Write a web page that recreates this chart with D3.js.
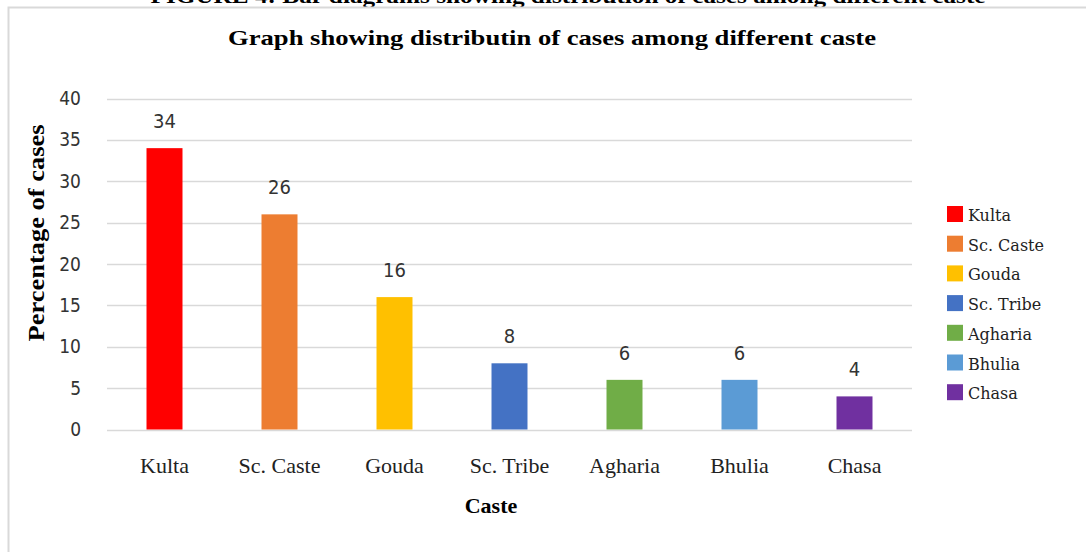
<!DOCTYPE html>
<html>
<head>
<meta charset="utf-8">
<script src="https://cdn.jsdelivr.net/npm/d3@7"></script>
<style>
  body { margin: 0; background: #fff; }
  svg { display: block; }
</style>
</head>
<body>
<svg id="chart" width="1086" height="552"></svg>
<script>
// data
const castes = ["Kulta", "Sc. Caste", "Gouda", "Sc. Tribe", "Agharia", "Bhulia", "Chasa"];
const percentages = [34, 26, 16, 8, 6, 6, 4];
const barColors = ["#ff0000", "#ed7d31", "#ffc000", "#4472c4", "#70ad47", "#5b9bd5", "#7030a0"];
const yTicks = [0, 5, 10, 15, 20, 25, 30, 35, 40];

const svg = d3.select("#chart"),
  width = +svg.attr("width"),
  height = +svg.attr("height");

const serif = "'Liberation Serif', 'Times New Roman', serif";
const sans = "'DejaVu Sans Condensed', 'Liberation Sans Narrow', sans-serif";
const plot = { left: 107, right: 912, top: 98.5, bottom: 429.5 };

// figure caption, mostly cut off at the top edge (as in the source)
svg.append("text")
  .attr("x", 568).attr("y", 3)
  .attr("text-anchor", "middle")
  .style("font-family", serif).style("font-weight", "bold").style("font-size", "22px")
  .attr("textLength", 835).attr("lengthAdjust", "spacingAndGlyphs")
  .text("FIGURE 4: Bar diagrams showing distribution of cases among different caste");

// chart frame
svg.append("path")
  .attr("d", "M8.5," + height + " V7.5 H" + width)
  .attr("fill", "none")
  .attr("stroke", "#d9d9d9")
  .attr("stroke-width", 2);

// scales
const x = d3.scaleBand()
  .domain(castes)
  .range([plot.left, plot.right])
  .paddingInner(0.687)
  .paddingOuter(0.3435);

const y = d3.scaleLinear()
  .domain([0, 40])
  .range([plot.bottom, plot.top]);

const color = d3.scaleOrdinal().domain(castes).range(barColors);

// gridlines
svg.append("g").attr("class", "grid")
  .selectAll("line")
  .data(yTicks)
  .enter().append("line")
  .attr("x1", plot.left).attr("x2", plot.right)
  .attr("y1", d => Math.round(y(d)) + 0.5)
  .attr("y2", d => Math.round(y(d)) + 0.5)
  .attr("stroke", "#d9d9d9")
  .attr("stroke-width", 1.5);

// y axis labels
const yAxis = svg.append("g")
  .attr("transform", "translate(" + (plot.left - 26) + ",0)")
  .call(d3.axisLeft(y).tickValues(yTicks).tickSize(0).tickPadding(0));
yAxis.select(".domain").remove();
yAxis.selectAll("text")
  .style("font-family", sans)
  .style("font-size", "19px")
  .style("fill", "#333");

// x axis labels
const xAxis = svg.append("g")
  .attr("transform", "translate(0," + (plot.bottom + 28) + ")")
  .call(d3.axisBottom(x).tickSize(0).tickPadding(0));
xAxis.select(".domain").remove();
xAxis.selectAll("text")
  .style("font-family", serif)
  .style("font-size", "22px")
  .style("fill", "#222");

// bars
svg.append("g").selectAll("rect")
  .data(castes)
  .enter().append("rect")
  .attr("x", d => x(d))
  .attr("y", (d, i) => y(percentages[i]))
  .attr("width", x.bandwidth())
  .attr("height", (d, i) => y(0) - y(percentages[i]))
  .attr("fill", d => color(d));

// value labels
svg.append("g").selectAll("text")
  .data(castes)
  .enter().append("text")
  .attr("x", d => x(d) + x.bandwidth() / 2)
  .attr("y", (d, i) => y(percentages[i]) - 20)
  .attr("text-anchor", "middle")
  .style("font-family", sans)
  .style("font-size", "20px")
  .style("fill", "#333")
  .text((d, i) => percentages[i]);

// titles
svg.append("text")
  .attr("x", 552).attr("y", 45)
  .attr("text-anchor", "middle")
  .style("font-family", serif).style("font-weight", "bold").style("font-size", "22px")
  .attr("textLength", 648).attr("lengthAdjust", "spacingAndGlyphs")
  .text("Graph  showing  distributin  of cases among  different  caste");

svg.append("text")
  .attr("transform", "translate(44,233) rotate(-90)")
  .attr("text-anchor", "middle")
  .style("font-family", serif).style("font-weight", "bold").style("font-size", "23px")
  .attr("textLength", 217).attr("lengthAdjust", "spacingAndGlyphs")
  .text("Percentage of cases");

svg.append("text")
  .attr("x", 491).attr("y", 513)
  .attr("text-anchor", "middle")
  .style("font-family", serif).style("font-weight", "bold").style("font-size", "22px")
  .text("Caste");

// legend
const legend = svg.append("g").attr("transform", "translate(947,206)");
const entry = legend.selectAll("g")
  .data(castes)
  .enter().append("g")
  .attr("transform", (d, i) => "translate(0," + (i * 29.7) + ")");
entry.append("rect")
  .attr("width", 16).attr("height", 16)
  .attr("fill", d => color(d));
entry.append("text")
  .attr("x", 21).attr("y", 15)
  .style("font-family", "'DejaVu Serif', serif")
  .style("font-size", "16px")
  .style("fill", "#222")
  .text(d => d);
</script>
</body>
</html>
